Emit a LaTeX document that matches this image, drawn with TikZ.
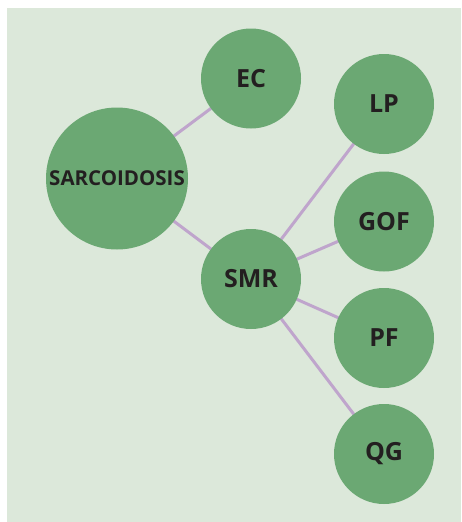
\documentclass[tikz,border=0pt]{standalone}
\usepackage{fontspec}
\setmainfont{Open Sans}
\definecolor{bgc}{HTML}{DCE8DA}
\definecolor{nodec}{HTML}{6BA873}
\definecolor{linec}{HTML}{BFA5CC}
\definecolor{txtc}{HTML}{231F20}
\tikzset{
  bub/.style={circle, fill=nodec, draw=none, inner sep=0pt, minimum size=100pt, text=txtc, font=\fontsize{25}{25}\selectfont\bfseries},
  big/.style={bub, minimum size=142pt, font=\fontsize{20.5}{20.5}\selectfont\bfseries},
  link/.style={draw=linec, line width=3pt}
}
\begin{document}
\begin{tikzpicture}[x=1pt,y=-1pt]
\useasboundingbox (0,0) rectangle (461,522);
\fill[white] (0,0) rectangle (461,522);
\fill[bgc] (7,8) rectangle (461,522);
\coordinate (cs) at (117,178.5);
\coordinate (cec) at (251,78.5);
\coordinate (csmr) at (251,279);
\coordinate (clp) at (384,104);
\coordinate (cgof) at (384,221.5);
\coordinate (cpf) at (384,338);
\coordinate (cqg) at (384,454);
\draw[link] (cs) -- (cec);
\draw[link] (cs) -- (csmr);
\draw[link] (csmr) -- (clp);
\draw[link] (csmr) -- (cgof);
\draw[link] (csmr) -- (cpf);
\draw[link] (csmr) -- (cqg);
\node[big] (sarc) at (cs) {SARCOIDOSIS};
\node[bub] (ec) at (cec) {EC};
\node[bub] (smr) at (csmr) {SMR};
\node[bub] (lp) at (clp) {LP};
\node[bub] (gof) at (cgof) {GOF};
\node[bub] (pf) at (cpf) {PF};
\node[bub] (qg) at (cqg) {QG};
\end{tikzpicture}
\end{document}
